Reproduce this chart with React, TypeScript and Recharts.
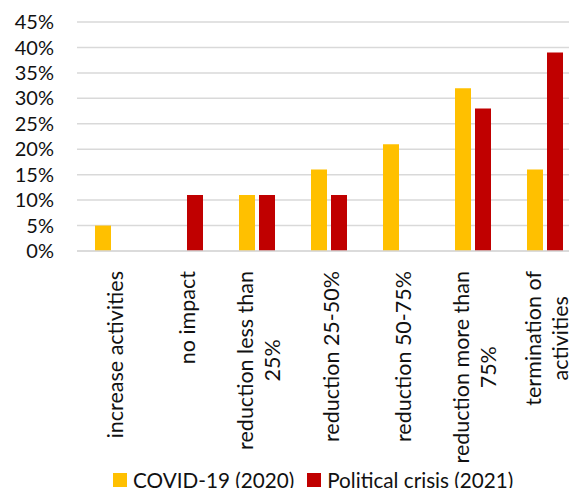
import { Bar, BarChart, CartesianGrid, Legend, XAxis, YAxis } from "recharts";

// Share of respondents by impact on activities, two crisis periods.

const CATEGORIES = [
  "increase activities",
  "no impact",
  "reduction less than 25%",
  "reduction 25-50%",
  "reduction 50-75%",
  "reduction more than 75%",
  "termination of activities",
];

// how each category label wraps under the axis
const LABEL_LINES = [
  ["increase activities"],
  ["no impact"],
  ["reduction less than", "25%"],
  ["reduction 25-50%"],
  ["reduction 50-75%"],
  ["reduction more than", "75%"],
  ["termination of", "activities"],
];

const COVID = [5, 0, 11, 16, 21, 32, 16];
const POLITICAL = [0, 11, 11, 11, 0, 28, 39];

const Y_TICKS = [0, 5, 10, 15, 20, 25, 30, 35, 40, 45];

const FONT = "Lato, 'Open Sans', sans-serif";
const TICK_SIZE = 20;
const LABEL_SIZE = 21.5;
const INK = "#111";

const data = CATEGORIES.map((name, i) => ({
  name,
  covid: COVID[i],
  political: POLITICAL[i],
}));

let ctx: CanvasRenderingContext2D | null = null;
function textWidth(s: string) {
  if (!ctx) {
    ctx = document.createElement("canvas").getContext("2d");
  }
  if (!ctx) return s.length * LABEL_SIZE * 0.5;
  ctx.font = `${LABEL_SIZE}px Lato`;
  return ctx.measureText(s).width;
}

function CategoryTick(props: any) {
  const { x, y, payload } = props;
  const lines = LABEL_LINES[payload.index] ?? [payload.value];
  const longest = Math.max(...lines.map(textWidth));
  const n = lines.length;
  return (
    <g transform={`translate(${x + 2},${y + 2})`}>
      {lines.map((line, i) => (
        <text
          key={i}
          transform="rotate(-90)"
          x={-longest / 2}
          y={(i - (n - 1) / 2) * 27}
          dy="0.35em"
          textAnchor="middle"
          fontFamily={FONT}
          fontSize={LABEL_SIZE}
          fill={INK}
        >
          {line}
        </text>
      ))}
    </g>
  );
}

function LegendContent() {
  const items = [
    { label: "COVID-19 (2020)", color: "#FFC000" },
    { label: "Political crisis (2021)", color: "#C00000" },
  ];
  return (
    <div
      style={{
        display: "flex",
        alignItems: "center",
        paddingLeft: 113,
        fontFamily: FONT,
        fontSize: 20.7,
        color: INK,
        lineHeight: "26px",
      }}
    >
      {items.map((it) => (
        <span key={it.label} style={{ display: "flex", alignItems: "center", marginRight: 13 }}>
          <span style={{ width: 14, height: 14, background: it.color, marginRight: 6 }} />
          {it.label}
        </span>
      ))}
    </div>
  );
}

export default function App() {
  return (
    <div
      style={{
        position: "fixed",
        left: 0,
        top: 0,
        width: 569,
        height: 488,
        overflow: "hidden",
        background: "#fff",
      }}
    >
      <BarChart
        width={585}
        height={488}
        data={data}
        margin={{ top: 22, right: 4, left: 0, bottom: 2 }}
        barSize={16}
        barGap={4}
      >
        <CartesianGrid vertical={false} stroke="#D9D9D9" strokeWidth={1.5} />
        <XAxis
          dataKey="name"
          interval={0}
          height={209}
          tick={<CategoryTick />}
          tickLine={false}
          axisLine={{ stroke: "#D9D9D9", strokeWidth: 1.5 }}
          tickMargin={12}
        />
        <YAxis
          domain={[0, 45]}
          ticks={Y_TICKS}
          interval={0}
          tickFormatter={(v) => `${v}%`}
          width={77}
          tickLine={false}
          axisLine={false}
          tickSize={0}
          tickMargin={23}
          tick={{ fontFamily: FONT, fontSize: TICK_SIZE, fill: INK }}
        />
        <Legend verticalAlign="bottom" content={<LegendContent />} wrapperStyle={{ bottom: -5 }} />
        <Bar dataKey="covid" name="COVID-19 (2020)" fill="#FFC000" isAnimationActive={false} />
        <Bar dataKey="political" name="Political crisis (2021)" fill="#C00000" isAnimationActive={false} />
      </BarChart>
    </div>
  );
}
